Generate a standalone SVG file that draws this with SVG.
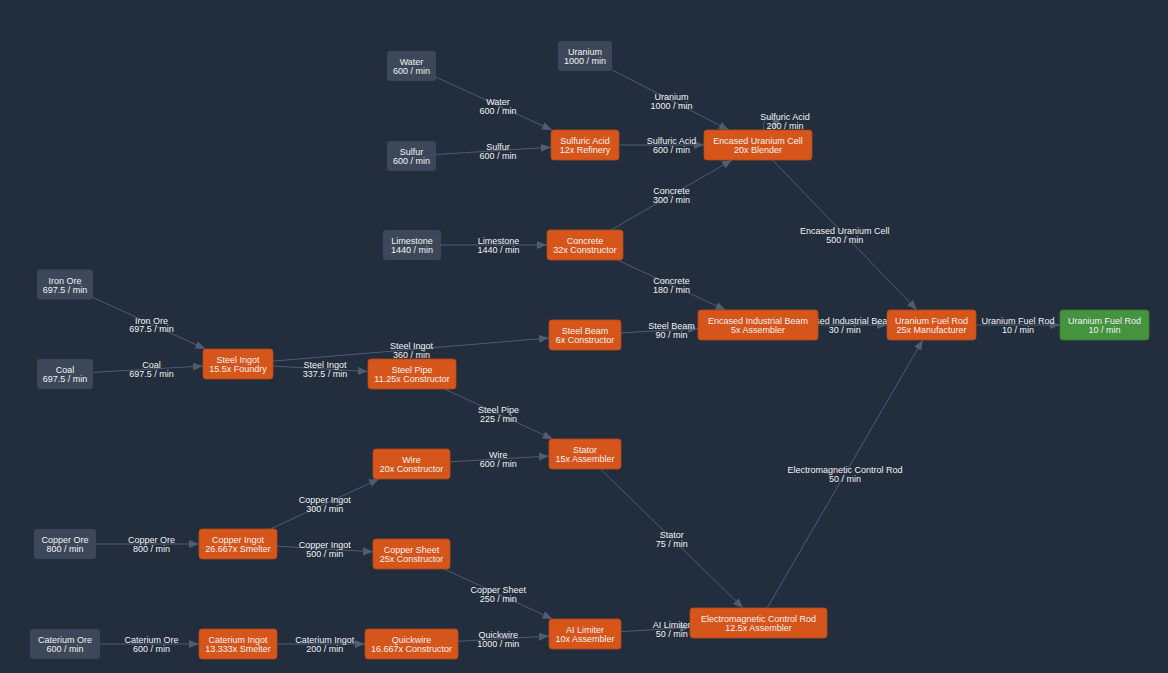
<svg xmlns="http://www.w3.org/2000/svg" width="1168" height="673" viewBox="0 0 1168 673">
<defs>
<style>
.bg{fill:#222d3d}
.src rect{fill:#3c4859}
.proc rect{fill:#d6551a;stroke:#b84a17;stroke-width:0.8}
.out rect{fill:#45923f;stroke:#3b7f36;stroke-width:0.8}
text{font-family:"Liberation Sans",Arial,sans-serif;font-size:9px;fill:#f2f2f2;text-anchor:middle}
.e line,.e path{stroke:#4e5d74;stroke-width:1;fill:none;marker-end:url(#ah)}
</style>
<marker id="ah" markerWidth="10" markerHeight="8" refX="10" refY="4" orient="auto" markerUnits="userSpaceOnUse">
<path d="M0,0 L10,4 L0,8 z" fill="#4e5d74"/>
</marker>
</defs>
<rect class="bg" x="0" y="0" width="1168" height="673"/>
<g id="connectors" class="e">
<line x1="436" y1="77.2" x2="552" y2="130"/>
<line x1="436" y1="154.5" x2="551" y2="147.2"/>
<line x1="612" y1="69.9" x2="728.8" y2="130"/>
<line x1="619" y1="145" x2="704" y2="145"/>
<line x1="611" y1="230" x2="732" y2="160"/>
<line x1="441" y1="245" x2="547" y2="245"/>
<line x1="617.4" y1="260" x2="725.6" y2="310"/>
<line x1="772.5" y1="160" x2="917" y2="310"/>
<line x1="93" y1="297.4" x2="205.4" y2="349"/>
<line x1="93" y1="372.4" x2="203" y2="366"/>
<line x1="273" y1="361.1" x2="549" y2="338"/>
<line x1="273" y1="366" x2="368" y2="371.5"/>
<line x1="621" y1="332.9" x2="698" y2="328.5"/>
<line x1="818" y1="325" x2="887" y2="325"/>
<line x1="976" y1="325" x2="1060" y2="325"/>
<line x1="444.4" y1="389" x2="552.6" y2="439"/>
<line x1="450" y1="461.8" x2="549" y2="456.1"/>
<line x1="600.4" y1="469" x2="743.1" y2="608"/>
<line x1="767.2" y1="608" x2="922.8" y2="340"/>
<line x1="96" y1="544" x2="199" y2="544"/>
<line x1="270.5" y1="529" x2="379" y2="479"/>
<line x1="277" y1="546.2" x2="373" y2="551.8"/>
<line x1="444" y1="569" x2="552.5" y2="619"/>
<line x1="100" y1="644" x2="199" y2="644"/>
<line x1="277" y1="644" x2="365" y2="644"/>
<line x1="458" y1="641.3" x2="549" y2="636.1"/>
<line x1="621" y1="631.7" x2="690" y2="627.3"/>
<path d="M764 130 C760 116,778 112,774 129.5"/>
<g id="edge-labels">
<text x="498" y="104.8">Water</text><text x="498" y="113.5">600 / min</text>
<text x="498" y="149.8">Sulfur</text><text x="498" y="158.5">600 / min</text>
<text x="671.5" y="99.8">Uranium</text><text x="671.5" y="108.5">1000 / min</text>
<text x="671.5" y="144.3">Sulfuric Acid</text><text x="671.5" y="153">600 / min</text>
<text x="785" y="120.3">Sulfuric Acid</text><text x="785" y="129">200 / min</text>
<text x="671.5" y="194.3">Concrete</text><text x="671.5" y="203">300 / min</text>
<text x="498.5" y="244.3">Limestone</text><text x="498.5" y="253">1440 / min</text>
<text x="671.5" y="284.3">Concrete</text><text x="671.5" y="293">180 / min</text>
<text x="844.7" y="234.3">Encased Uranium Cell</text><text x="844.7" y="243">500 / min</text>
<text x="151.5" y="323.6">Iron Ore</text><text x="151.5" y="332.3">697.5 / min</text>
<text x="151.5" y="368.3">Coal</text><text x="151.5" y="377">697.5 / min</text>
<text x="411.5" y="348.8">Steel Ingot</text><text x="411.5" y="357.5">360 / min</text>
<text x="325" y="368.3">Steel Ingot</text><text x="325" y="377">337.5 / min</text>
<text x="671.5" y="329.3">Steel Beam</text><text x="671.5" y="338">90 / min</text>
<text x="844.7" y="324.3">Encased Industrial Beam</text><text x="844.7" y="333">30 / min</text>
<text x="1018" y="324.3">Uranium Fuel Rod</text><text x="1018" y="333">10 / min</text>
<text x="498.5" y="413.3">Steel Pipe</text><text x="498.5" y="422">225 / min</text>
<text x="498.2" y="458.3">Wire</text><text x="498.2" y="467">600 / min</text>
<text x="671.7" y="537.8">Stator</text><text x="671.7" y="546.5">75 / min</text>
<text x="845" y="473.3">Electromagnetic Control Rod</text><text x="845" y="482">50 / min</text>
<text x="151.5" y="543.3">Copper Ore</text><text x="151.5" y="552">800 / min</text>
<text x="324.7" y="503.3">Copper Ingot</text><text x="324.7" y="512">300 / min</text>
<text x="324.7" y="548.3">Copper Ingot</text><text x="324.7" y="557">500 / min</text>
<text x="498.2" y="593.3">Copper Sheet</text><text x="498.2" y="602">250 / min</text>
<text x="151.5" y="643.3">Caterium Ore</text><text x="151.5" y="652">600 / min</text>
<text x="324.7" y="643.3">Caterium Ingot</text><text x="324.7" y="652">200 / min</text>
<text x="498.2" y="638.3">Quickwire</text><text x="498.2" y="647">1000 / min</text>
<text x="671.7" y="627.8">AI Limiter</text><text x="671.7" y="636.5">50 / min</text>
</g>
</g>
<g id="water" class="src"><rect x="387" y="51" width="49" height="30" rx="3"/><text x="411.5" y="65.3">Water</text><text x="411.5" y="74">600 / min</text></g>
<g id="uranium" class="src"><rect x="558" y="41" width="54" height="30" rx="3"/><text x="585" y="55.3">Uranium</text><text x="585" y="64">1000 / min</text></g>
<g id="sulfur" class="src"><rect x="387" y="141" width="49" height="30" rx="3"/><text x="411.5" y="155.3">Sulfur</text><text x="411.5" y="164">600 / min</text></g>
<g id="limestone" class="src"><rect x="383" y="230" width="58" height="30" rx="3"/><text x="412" y="244.3">Limestone</text><text x="412" y="253">1440 / min</text></g>
<g id="iron-ore" class="src"><rect x="37" y="269.5" width="56" height="30" rx="3"/><text x="65" y="283.8">Iron Ore</text><text x="65" y="292.5">697.5 / min</text></g>
<g id="coal" class="src"><rect x="37" y="359" width="56" height="30" rx="3"/><text x="65" y="373.3">Coal</text><text x="65" y="382">697.5 / min</text></g>
<g id="copper-ore" class="src"><rect x="34" y="529" width="62" height="30" rx="3"/><text x="65" y="543.3">Copper Ore</text><text x="65" y="552">800 / min</text></g>
<g id="caterium-ore" class="src"><rect x="30" y="629" width="70" height="30" rx="3"/><text x="65" y="643.3">Caterium Ore</text><text x="65" y="652">600 / min</text></g>
<g id="sulfuric-acid" class="proc"><rect x="551" y="130" width="68" height="30" rx="3"/><text x="585" y="144.3">Sulfuric Acid</text><text x="585" y="153">12x Refinery</text></g>
<g id="encased-uranium-cell" class="proc"><rect x="704" y="130" width="108" height="30" rx="3"/><text x="758" y="144.3">Encased Uranium Cell</text><text x="758" y="153">20x Blender</text></g>
<g id="concrete" class="proc"><rect x="547" y="230" width="76" height="30" rx="3"/><text x="585" y="244.3">Concrete</text><text x="585" y="253">32x Constructor</text></g>
<g id="steel-ingot" class="proc"><rect x="203" y="349" width="70" height="30" rx="3"/><text x="238" y="363.3">Steel Ingot</text><text x="238" y="372">15.5x Foundry</text></g>
<g id="steel-beam" class="proc"><rect x="549" y="320" width="72" height="30" rx="3"/><text x="585" y="334.3">Steel Beam</text><text x="585" y="343">6x Constructor</text></g>
<g id="steel-pipe" class="proc"><rect x="368" y="359" width="88" height="30" rx="3"/><text x="412" y="373.3">Steel Pipe</text><text x="412" y="382">11.25x Constructor</text></g>
<g id="encased-industrial-beam" class="proc"><rect x="698" y="310" width="120" height="30" rx="3"/><text x="758" y="324.3">Encased Industrial Beam</text><text x="758" y="333">5x Assembler</text></g>
<g id="uranium-fuel-rod" class="proc"><rect x="887" y="310" width="89" height="30" rx="3"/><text x="931.5" y="324.3">Uranium Fuel Rod</text><text x="931.5" y="333">25x Manufacturer</text></g>
<g id="output-uranium-fuel-rod" class="out"><rect x="1060" y="310" width="89" height="30" rx="3"/><text x="1104.5" y="324.3">Uranium Fuel Rod</text><text x="1104.5" y="333">10 / min</text></g>
<g id="wire" class="proc"><rect x="373" y="449" width="77" height="30" rx="3"/><text x="411.5" y="463.3">Wire</text><text x="411.5" y="472">20x Constructor</text></g>
<g id="stator" class="proc"><rect x="549" y="439" width="72" height="30" rx="3"/><text x="585" y="453.3">Stator</text><text x="585" y="462">15x Assembler</text></g>
<g id="copper-ingot" class="proc"><rect x="199" y="529" width="78" height="30" rx="3"/><text x="238" y="543.3">Copper Ingot</text><text x="238" y="552">26.667x Smelter</text></g>
<g id="copper-sheet" class="proc"><rect x="373" y="539" width="77" height="30" rx="3"/><text x="411.5" y="553.3">Copper Sheet</text><text x="411.5" y="562">25x Constructor</text></g>
<g id="electromagnetic-control-rod" class="proc"><rect x="690" y="608" width="137" height="30" rx="3"/><text x="758.5" y="622.3">Electromagnetic Control Rod</text><text x="758.5" y="631">12.5x Assembler</text></g>
<g id="caterium-ingot" class="proc"><rect x="199" y="629" width="78" height="30" rx="3"/><text x="238" y="643.3">Caterium Ingot</text><text x="238" y="652">13.333x Smelter</text></g>
<g id="quickwire" class="proc"><rect x="365" y="629" width="93" height="30" rx="3"/><text x="411.5" y="643.3">Quickwire</text><text x="411.5" y="652">16.667x Constructor</text></g>
<g id="ai-limiter" class="proc"><rect x="549" y="619" width="72" height="30" rx="3"/><text x="585" y="633.3">AI Limiter</text><text x="585" y="642">10x Assembler</text></g>
</svg>
